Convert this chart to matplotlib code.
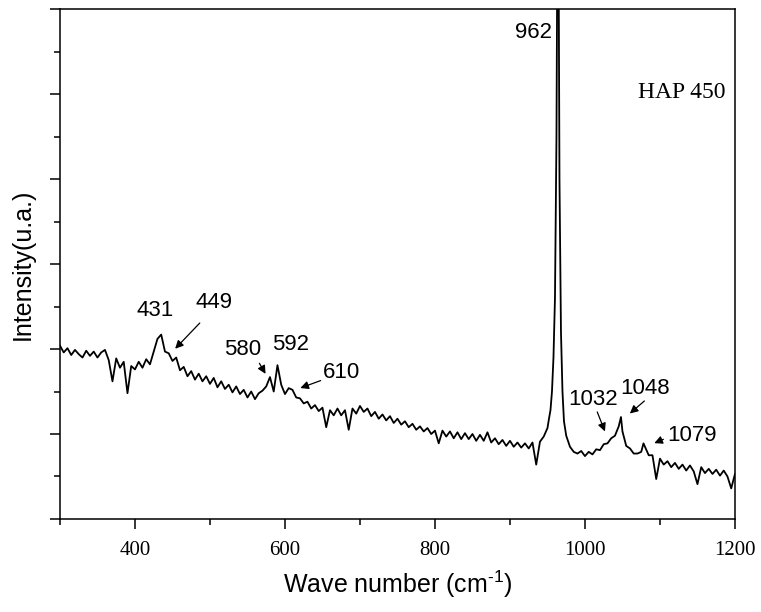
import matplotlib
matplotlib.use('Agg')
import matplotlib.pyplot as plt
from matplotlib.ticker import FixedLocator, NullFormatter

plt.rcParams['mathtext.fontset'] = 'custom'
plt.rcParams['mathtext.rm'] = 'Liberation Sans'

# Raman spectrum of HAP 450
wavenumber = [
    300, 305, 310, 315, 320, 325, 330, 335, 340, 345,
    350, 355, 360, 365, 370, 375, 380, 385, 390, 395,
    400, 405, 410, 415, 420, 425, 430, 435, 440, 445,
    450, 455, 460, 465, 470, 475, 480, 485, 490, 495,
    500, 505, 510, 515, 520, 525, 530, 535, 540, 545,
    550, 555, 560, 565, 570, 575, 580, 585, 590, 595,
    600, 605, 610, 615, 620, 625, 630, 635, 640, 645,
    650, 655, 660, 665, 670, 675, 680, 685, 690, 695,
    700, 705, 710, 715, 720, 725, 730, 735, 740, 745,
    750, 755, 760, 765, 770, 775, 780, 785, 790, 795,
    800, 805, 810, 815, 820, 825, 830, 835, 840, 845,
    850, 855, 860, 865, 870, 875, 880, 885, 890, 895,
    900, 905, 910, 915, 920, 925, 930, 935, 940, 945, 950,
    952, 954, 956, 958, 960, 962, 964, 966, 968, 970, 972, 975,
    980, 985, 990, 995, 1000, 1005, 1010, 1015, 1020, 1025,
    1030, 1035, 1040, 1045, 1048, 1050, 1055, 1060, 1065, 1070,
    1075, 1078, 1080, 1085, 1090, 1095, 1100, 1105, 1110, 1115,
    1120, 1125, 1130, 1135, 1140, 1145, 1150, 1155, 1160, 1165,
    1170, 1175, 1180, 1185, 1190, 1195, 1200,
]
intensity = [
    2.04, 1.96, 2.01, 1.93, 1.99, 1.94, 1.90, 1.98, 1.92, 1.97,
    1.90, 1.96, 1.99, 1.87, 1.62, 1.89, 1.78, 1.85, 1.48, 1.80,
    1.76, 1.85, 1.78, 1.88, 1.82, 1.97, 2.12, 2.17, 1.97, 1.95,
    1.86, 1.90, 1.75, 1.79, 1.68, 1.74, 1.64, 1.71, 1.62, 1.68,
    1.59, 1.66, 1.55, 1.62, 1.53, 1.58, 1.49, 1.56, 1.47, 1.52,
    1.43, 1.50, 1.41, 1.48, 1.51, 1.56, 1.67, 1.50, 1.81, 1.58,
    1.47, 1.54, 1.52, 1.43, 1.42, 1.36, 1.38, 1.30, 1.34, 1.27,
    1.31, 1.08, 1.28, 1.22, 1.30, 1.22, 1.28, 1.05, 1.30, 1.24,
    1.33, 1.26, 1.30, 1.21, 1.26, 1.18, 1.23, 1.16, 1.21, 1.13,
    1.18, 1.11, 1.15, 1.08, 1.12, 1.05, 1.09, 1.03, 1.07, 1.00,
    1.04, 0.89, 1.04, 0.97, 1.03, 0.95, 1.02, 0.94, 1.01, 0.94,
    1.00, 0.92, 0.99, 0.92, 1.02, 0.90, 0.95, 0.88, 0.93, 0.86,
    0.92, 0.85, 0.90, 0.84, 0.89, 0.83, 0.90, 0.64, 0.91, 0.97, 1.07,
    1.18, 1.28, 1.50, 1.90, 2.60, 4.50, 8.50, 4.00, 2.20, 1.50, 1.15, 0.98,
    0.85, 0.79, 0.77, 0.80, 0.74, 0.79, 0.76, 0.82, 0.81, 0.88,
    0.89, 0.95, 0.98, 1.09, 1.20, 1.03, 0.86, 0.83, 0.77, 0.77,
    0.79, 0.89, 0.85, 0.75, 0.75, 0.47, 0.71, 0.64, 0.68, 0.61,
    0.66, 0.59, 0.64, 0.57, 0.63, 0.56, 0.41, 0.61, 0.54, 0.59,
    0.53, 0.58, 0.51, 0.57, 0.50, 0.36, 0.53,
]

# peak labels
plain_labels = ['431', '592', '962']
arrow_labels = ['449', '580', '610', '1032', '1048', '1079']

fig = plt.figure(figsize=(7.61, 6.12), dpi=100)
ax = fig.add_axes([0.0788, 0.152, 0.887, 0.833])
ax.plot(wavenumber, intensity, color='black', linewidth=1.3)

ax.set_xlim(300, 1200)
ax.set_ylim(0, 6)
ax.xaxis.set_major_locator(FixedLocator([400, 600, 800, 1000, 1200]))
ax.xaxis.set_minor_locator(FixedLocator([300, 500, 700, 900, 1100]))
ax.yaxis.set_major_locator(FixedLocator([0, 1, 2, 3, 4, 5, 6]))
ax.yaxis.set_minor_locator(FixedLocator([0.5, 1.5, 2.5, 3.5, 4.5, 5.5]))
ax.yaxis.set_major_formatter(NullFormatter())
ax.tick_params(which='major', direction='out', length=7, width=1.1)
ax.tick_params(which='minor', direction='out', length=4.5, width=1.1)
ax.tick_params(axis='x', pad=9)
for lbl in ax.get_xticklabels():
    lbl.set_fontfamily('Liberation Serif')
    lbl.set_fontsize(15)
for s in ax.spines.values():
    s.set_linewidth(1.1)

ax.set_xlabel('Wave number (cm$^{\\text{-1}}$)', fontfamily='Liberation Sans', fontsize=18, labelpad=6)
ax.set_ylabel('Intensity(u.a.)', fontfamily='Liberation Sans', fontsize=18, labelpad=8)

txt = dict(fontfamily='Liberation Sans', fontsize=16, ha='center', va='center')
arr = dict(arrowstyle='-|>', color='black', lw=0.9, mutation_scale=12)

# labels without arrows
ax.text(427, 2.45, plain_labels[0], **txt)
ax.text(608, 2.05, plain_labels[1], **txt)
ax.text(931, 5.72, plain_labels[2], **txt)

# labels with arrows
ax.text(505, 2.55, arrow_labels[0], **txt)
ax.annotate('', xy=(451, 1.98), xytext=(489, 2.33), arrowprops=arr)
ax.text(544, 2.0, arrow_labels[1], **txt)
ax.annotate('', xy=(576, 1.68), xytext=(564, 1.86), arrowprops=arr)
ax.text(675, 1.72, arrow_labels[2], **txt)
ax.annotate('', xy=(617, 1.53), xytext=(651, 1.64), arrowprops=arr)
ax.text(1011, 1.41, arrow_labels[3], **txt)
ax.annotate('', xy=(1028, 1.0), xytext=(1015, 1.29), arrowprops=arr)
ax.text(1080, 1.54, arrow_labels[4], **txt)
ax.annotate('', xy=(1057, 1.22), xytext=(1082, 1.41), arrowprops=arr)
ax.text(1143, 0.98, arrow_labels[5], **txt)
ax.annotate('', xy=(1089, 0.88), xytext=(1108, 0.95), arrowprops=arr)

ax.text(1129, 5.02, 'HAP 450', fontfamily='Liberation Serif', fontsize=17,
        ha='center', va='center')

fig.savefig('out.png', dpi=100)
